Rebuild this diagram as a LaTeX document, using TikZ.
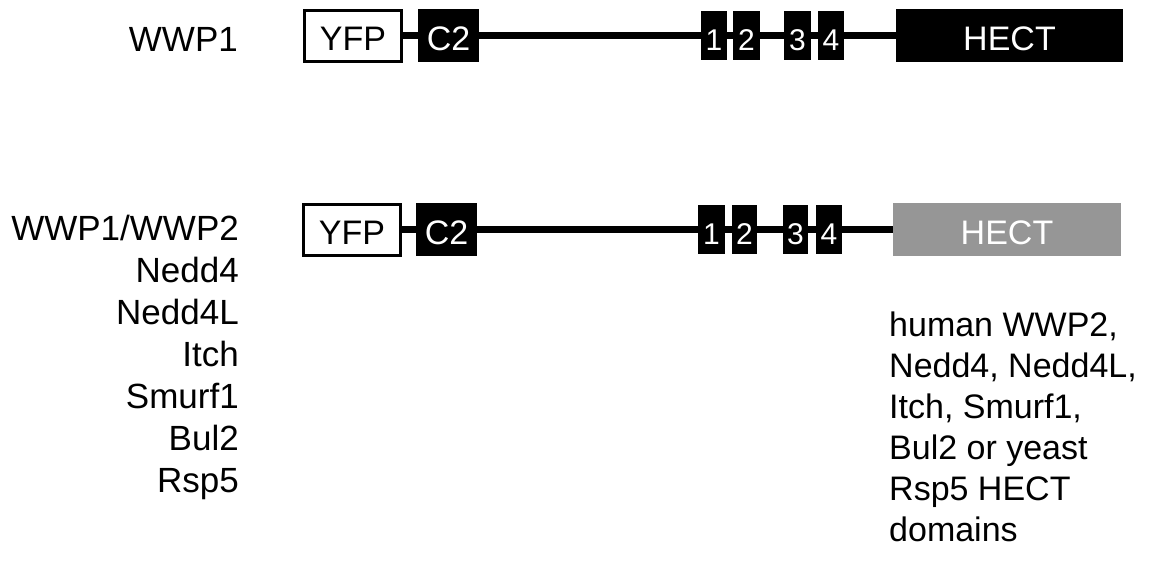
\documentclass[tikz,border=0pt]{standalone}
\usepackage{fontspec}
\setmainfont{Liberation Sans}
\definecolor{hectgray}{RGB}{150,150,150}
\begin{document}
\begin{tikzpicture}[x=1pt,y=-1pt,
  dom/.style={rectangle, fill=black, inner sep=0pt, text=white,
    font=\fontsize{34}{40}\selectfont, text height=30pt, text depth=0pt, minimum height=53pt},
  num/.style={dom, font=\fontsize{30}{34}\selectfont, text height=29pt, minimum height=49pt},
  yfpbox/.style={rectangle, draw=black, line width=3pt, fill=white, inner sep=0pt,
    font=\fontsize{34}{40}\selectfont, text height=30pt, text depth=0pt,
    minimum width=97pt, minimum height=51pt},
  link/.style={line width=7pt},
  lbl/.style={inner sep=0pt, font=\fontsize{35}{42}\selectfont},
  note/.style={inner sep=0pt, font=\fontsize{34}{41}\selectfont}
]
\useasboundingbox (0,0) rectangle (1152,563);

% top row
\node[yfpbox] (yfpA) at (353,35.5) {YFP};
\node[dom, minimum width=61pt] (c2A) at (448.5,35.5) {C2};
\node[num, minimum width=26pt] (a1) at (714,35.5) {1};
\node[num, minimum width=27pt] (a2) at (746.5,35.5) {2};
\node[num, minimum width=27pt] (a3) at (797.5,35.5) {3};
\node[num, minimum width=26pt] (a4) at (831,35.5) {4};
\node[dom, minimum width=227pt] (hectA) at (1009.5,35.5) {HECT};
\draw[link] (yfpA) -- (c2A);
\draw[link] (c2A) -- (a1);
\draw[link] (a1) -- (a2);
\draw[link] (a2) -- (a3);
\draw[link] (a3) -- (a4);
\draw[link] (a4) -- (hectA);
\node[lbl, anchor=base east] (nameA) at (238,51) {WWP1};

% bottom row
\node[yfpbox] (yfpB) at (352,229.5) {YFP};
\node[dom, minimum width=61pt] (c2B) at (446.5,229.5) {C2};
\node[num, minimum width=27pt] (b1) at (711.5,229.5) {1};
\node[num, minimum width=25pt] (b2) at (744.5,229.5) {2};
\node[num, minimum width=25pt] (b3) at (795.5,229.5) {3};
\node[num, minimum width=26pt] (b4) at (829,229.5) {4};
\node[dom, fill=hectgray, minimum width=228pt] (hectB) at (1007,229.5) {HECT};
\draw[link] (yfpB) -- (c2B);
\draw[link] (c2B) -- (b1);
\draw[link] (b1) -- (b2);
\draw[link] (b2) -- (b3);
\draw[link] (b3) -- (b4);
\draw[link] (b4) -- (hectB);

\foreach \t [count=\i] in {{WWP1/WWP2},{Nedd4},{Nedd4L},{Itch},{Smurf1},{Bul2},{Rsp5}}
  \node[lbl, anchor=base east] (lst\i) at (239,{240+(\i-1)*42}) {\t};

\foreach \t [count=\i] in {{human WWP2,},{Nedd4, Nedd4L,},{Itch, Smurf1,},{Bul2 or yeast},{Rsp5 HECT},{domains}}
  \node[note, anchor=base west] (nt\i) at (889,{336+(\i-1)*41}) {\t};
\end{tikzpicture}
\end{document}
